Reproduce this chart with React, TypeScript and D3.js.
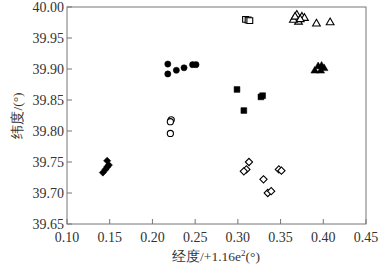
import React from "react";
import * as d3 from "d3";

const xTicks = [0.1, 0.15, 0.2, 0.25, 0.3, 0.35, 0.4, 0.45];
const yTicks = [39.65, 39.7, 39.75, 39.8, 39.85, 39.9, 39.95, 40.0];

// [x, y] pairs per series
const filledDiamonds: [number, number][] = [
  [0.147, 39.752], [0.149, 39.745], [0.147, 39.742], [0.145, 39.738], [0.142, 39.733],
];
const filledCircles: [number, number][] = [
  [0.218, 39.908], [0.218, 39.892], [0.228, 39.898], [0.237, 39.902], [0.247, 39.907], [0.251, 39.907],
];
const openCircles: [number, number][] = [
  [0.222, 39.818], [0.221, 39.815], [0.221, 39.796],
];
const filledSquares: [number, number][] = [
  [0.299, 39.867], [0.327, 39.855], [0.329, 39.857], [0.307, 39.833],
];
const openSquares: [number, number][] = [
  [0.309, 39.980], [0.312, 39.979], [0.314, 39.978],
];
const openDiamonds: [number, number][] = [
  [0.313, 39.750], [0.310, 39.738], [0.307, 39.735], [0.330, 39.722],
  [0.335, 39.700], [0.339, 39.703], [0.348, 39.738], [0.351, 39.736],
];
const openTriangles: [number, number][] = [
  [0.369, 39.987], [0.375, 39.984], [0.371, 39.976], [0.365, 39.979], [0.378, 39.982],
  [0.367, 39.984], [0.373, 39.980], [0.392, 39.973], [0.408, 39.975],
];
const filledTriangles: [number, number][] = [
  [0.390, 39.897], [0.394, 39.904], [0.398, 39.905], [0.401, 39.901], [0.397, 39.897],
];

const W = 385, H = 268;
const L = 67, R = 366, T = 7, B = 224;

export default function App() {
  const x = d3.scaleLinear().domain([0.1, 0.45]).range([L, R]);
  const y = d3.scaleLinear().domain([39.65, 40.0]).range([B, T]);
  const circle = d3.symbol().type(d3.symbolCircle).size(30)()!;
  const square = d3.symbol().type(d3.symbolSquare).size(34)()!;
  const diamond = d3.symbol().type(d3.symbolSquare).size(26)()!;
  const tri = d3.symbol().type(d3.symbolTriangle).size(26)()!;
  const axisColor = "#777";
  const textColor = "#333";
  const font = "'Liberation Serif', 'Times New Roman', serif";

  const marks = (data: [number, number][], path: string, filled: boolean, rot = 0, key = "") =>
    data.map((d, i) => (
      <path
        key={key + i}
        d={path}
        transform={`translate(${x(d[0])},${y(d[1])}) rotate(${rot})`}
        fill={filled ? "#000" : "#fff"}
        stroke="#000"
        strokeWidth={filled ? 0.5 : 1.1}
      />
    ));

  return (
    <svg width={W} height={H} style={{ position: "absolute", left: 0, top: 0 }} fontFamily={font}>
      <rect x={0} y={0} width={W} height={H} fill="#fff" />
      <rect x={L} y={T} width={R - L} height={B - T} fill="none" stroke={axisColor} strokeWidth={1} />
      {xTicks.map((t) => (
        <g key={"xt" + t}>
          <line x1={x(t)} x2={x(t)} y1={B} y2={B - 5} stroke={axisColor} />
          <text x={x(t)} y={B + 18} textAnchor="middle" fontSize={14} fill={textColor}>
            {t.toFixed(2)}
          </text>
        </g>
      ))}
      {yTicks.map((t) => (
        <g key={"yt" + t}>
          <line x1={L} x2={L + 5} y1={y(t)} y2={y(t)} stroke={axisColor} />
          <text x={L - 3} y={y(t) + 4.5} textAnchor="end" fontSize={14} fill={textColor}>
            {t.toFixed(2)}
          </text>
        </g>
      ))}
      <text x={216} y={261} textAnchor="middle" fontSize={13.5} fill={textColor}>
        经度/+1.16e<tspan dy={-5} fontSize={9}>2</tspan><tspan dy={5}>(°)</tspan>
      </text>
      <text transform={`translate(22,${(T + B) / 2}) rotate(-90)`} textAnchor="middle" fontSize={13.5} fill={textColor}>
        纬度/(°)
      </text>
      {marks(filledDiamonds, diamond, true, 45, "fd")}
      {marks(filledCircles, circle, true, 0, "fc")}
      {marks(openCircles, circle, false, 0, "oc")}
      {marks(filledSquares, square, true, 0, "fs")}
      {marks(openSquares, square, false, 0, "os")}
      {marks(openDiamonds, diamond, false, 45, "od")}
      {marks(openTriangles, tri, false, 0, "ot")}
      {marks(filledTriangles, tri, true, 0, "ft")}
    </svg>
  );
}
